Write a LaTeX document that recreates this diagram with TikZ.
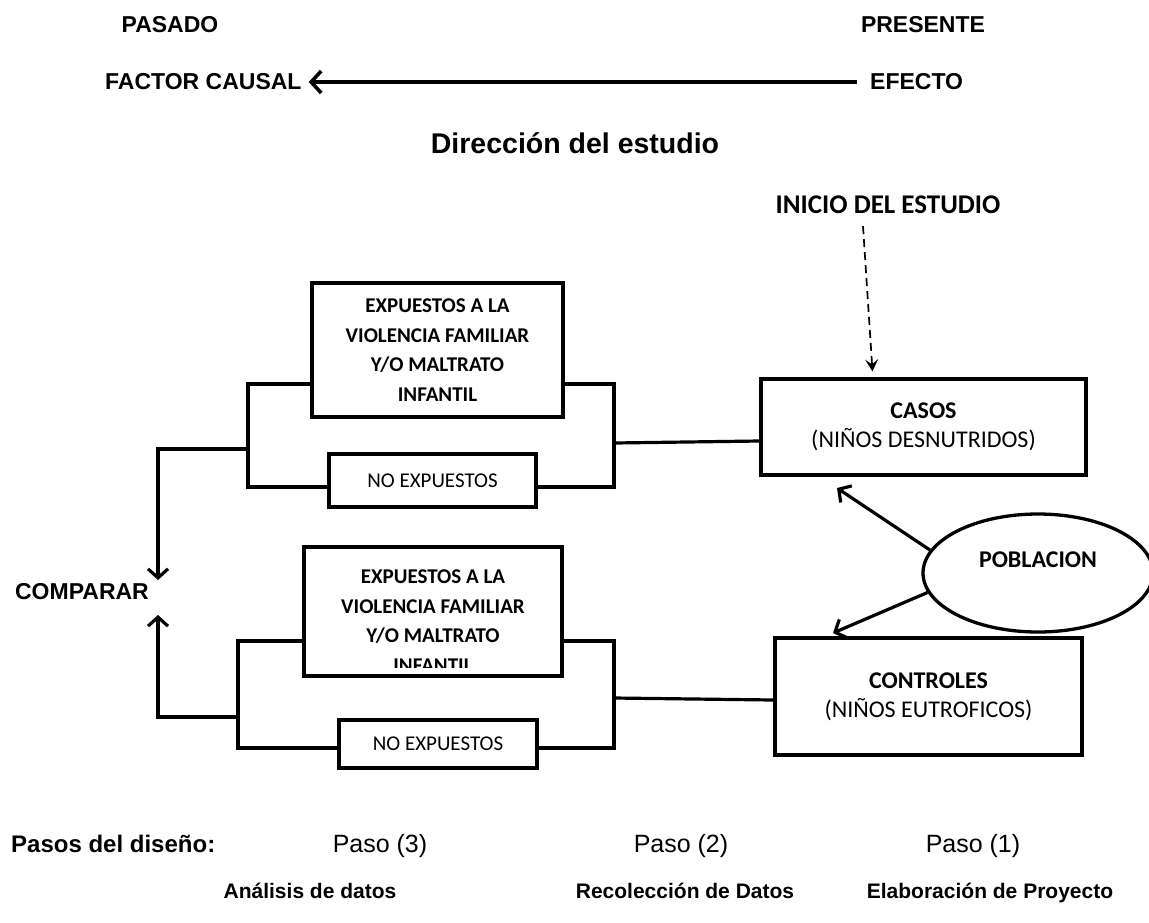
\documentclass[tikz,border=0pt]{standalone}
\usepackage{fontspec}
\setmainfont{Liberation Sans}
\newfontfamily\calibri{Carlito}
\usetikzlibrary{shapes.geometric,arrows.meta}
\tikzset{
  hdr/.style={font=\fontsize{23}{27}\selectfont\bfseries, inner sep=0pt},
  big/.style={font=\fontsize{28.5}{32}\selectfont\bfseries, inner sep=0pt},
  paso/.style={font=\fontsize{25}{29}\selectfont, inner sep=0pt, anchor=base},
  lbl/.style={font=\fontsize{21}{25}\selectfont\bfseries, inner sep=0pt, anchor=base},
  cbold/.style={font=\calibri\fontsize{27}{31}\selectfont\bfseries, inner sep=0pt},
  expbox/.style={draw, line width=3.3pt, inner sep=0pt, align=center,
    font=\calibri\fontsize{21}{29.7}\selectfont\bfseries},
  exptext/.style={inner sep=0pt, align=center,
    font=\calibri\fontsize{21}{29.7}\selectfont\bfseries},
  nobox/.style={draw, line width=3.3pt, inner sep=0pt,
    font=\calibri\fontsize{21}{25}\selectfont},
  grpbox/.style={draw, line width=3.3pt, inner sep=0pt, align=center,
    font=\calibri\fontsize{24}{29}\selectfont},
  conn/.style={line width=3.2pt},
  barb/.style={-{Straight Barb[length=9pt,width=20pt,line width=3.2pt]}},
}
\begin{document}
\begin{tikzpicture}[x=1pt,y=-1pt]
\useasboundingbox (0,0) rectangle (1149,922);

% top row
\node[hdr] (pasado) at (170,25) {PASADO};
\node[hdr] (presente) at (923,25) {PRESENTE};
\node[hdr, anchor=west] (factor) at (105,82) {FACTOR CAUSAL};
\node[hdr, anchor=west] (efecto) at (870,82) {EFECTO};
\draw[line width=4pt, -{Straight Barb[length=10pt,width=22pt,line width=3.6pt]}]
  ([xshift=-13pt]efecto.west) -- ([xshift=7pt]factor.east);
\node[big] (dir) at (575,143) {Dirección del estudio};

% inicio
\node[cbold] (inicio) at (888,205) {INICIO DEL ESTUDIO};

% left upper group
\node[expbox, minimum width=251pt, minimum height=134pt] (uexp) at (437.5,350)
  {EXPUESTOS A LA\\VIOLENCIA FAMILIAR\\Y/O MALTRATO\\INFANTIL};
\node[nobox, minimum width=207pt, minimum height=53pt] (uno) at (432.5,480.5) {NO EXPUESTOS};

% left lower group (last line cut off by the text box)
\begin{scope}
  \clip (304,547) rectangle (562,667);
  \node[exptext] (lexptxt) at (433,621)
    {EXPUESTOS A LA\\VIOLENCIA FAMILIAR\\Y/O MALTRATO\\INFANTIL};
\end{scope}
\node[draw, line width=3.3pt, inner sep=0pt, minimum width=258pt, minimum height=129pt] (lexp) at (433,611.5) {};
\node[nobox, minimum width=198pt, minimum height=48pt] (lno) at (438,744) {NO EXPUESTOS};

% right boxes
\node[grpbox, minimum width=325pt, minimum height=96pt] (casos) at (923.5,427)
  {\textbf{CASOS}\\(NIÑOS DESNUTRIDOS)};
\node[grpbox, minimum width=307pt, minimum height=117pt] (controles) at (928.5,696.5)
  {\textbf{CONTROLES}\\(NIÑOS EUTROFICOS)};

% poblacion
\node[ellipse, draw, line width=3.3pt, minimum width=230pt, minimum height=118pt, inner sep=0pt] (pob) at (1038,573) {};
\node[font=\calibri\fontsize{24}{28}\selectfont\bfseries, inner sep=0pt] (pobtxt) at (1038,560) {POBLACION};

% comparar
\node[hdr] (comparar) at (82,592) {COMPARAR};
\coordinate (cmpTop) at (158,580);
\coordinate (cmpBot) at (158,615);

% upper bracket
\draw[conn] (uexp.west |- 0,384) -| (248,487) -- (uno.west |- 0,487);
\draw[conn] (uexp.east |- 0,384) -| (614,487) -- (uno.east |- 0,487);
\draw[conn] (614,443) -- (casos.west |- 0,441);
\draw[conn, barb] (248,449) -| (cmpTop);

% lower bracket
\draw[conn] (lexp.west |- 0,641) -| (238,748) -- (lno.west |- 0,748);
\draw[conn] (lexp.east |- 0,641) -| (614,748) -- (lno.east |- 0,748);
\draw[conn] (614,698) -- (controles.west |- 0,700);
\draw[conn, barb] (238,717) -| (cmpBot);

% inicio dashed arrow
\draw[line width=1.7pt, dash pattern=on 8pt off 5pt,
  -{Stealth[length=12pt,width=13pt,inset=5pt]}]
  ([xshift=-25pt,yshift=-12pt]inicio.south) -- ([xshift=-51pt,yshift=6pt]casos.north);

% poblacion arrows
\coordinate (toCasos) at (837,488);
\coordinate (toControles) at (833,633);
\draw[conn, barb] (pob.168) -- (toCasos);
\draw[conn, barb] (pob.190) -- (toControles);

% bottom rows
\node[anchor=base west, inner sep=0pt, font=\fontsize{24}{28}\selectfont\bfseries] (pasos) at (11,852) {Pasos del diseño:};
\node[paso] (p3) at (380,852) {Paso (3)};
\node[paso] (p2) at (681,852) {Paso (2)};
\node[paso] (p1) at (973,852) {Paso (1)};
\node[lbl] (l3) at (310,898) {Análisis de datos};
\node[lbl] (l2) at (685,898) {Recolección de Datos};
\node[lbl] (l1) at (990,898) {Elaboración de Proyecto};
\end{tikzpicture}
\end{document}
